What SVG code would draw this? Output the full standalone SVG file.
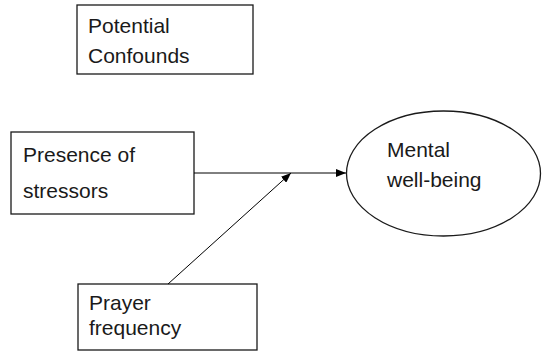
<svg xmlns="http://www.w3.org/2000/svg" width="542" height="351" viewBox="0 0 542 351">
<style>
.box{fill:#fff;stroke:#1a1a1a;stroke-width:1.3}
.t{font-family:"Liberation Sans",Arial,sans-serif;font-size:21px;fill:#1a1a1a}
.c{stroke:#000;stroke-width:1;fill:none}
</style>
<defs>
<marker id="ah" viewBox="0 0 10 8" refX="10" refY="4" markerWidth="10" markerHeight="8" markerUnits="userSpaceOnUse" orient="auto">
<path d="M0,0 L10,4 L0,8 Z" fill="#000"/>
</marker>
</defs>
<rect width="542" height="351" fill="#fff"/>
<g id="confounds">
<rect class="box" x="77" y="5" width="176" height="69"/>
<text class="t" x="88" y="33">Potential</text>
<text class="t" x="88" y="63">Confounds</text>
</g>
<g id="stressors">
<rect class="box" x="11" y="132" width="183" height="82"/>
<text class="t" x="23" y="162">Presence of</text>
<text class="t" x="23" y="198">stressors</text>
</g>
<g id="wellbeing">
<ellipse class="box" cx="443.5" cy="173.5" rx="97" ry="62.5"/>
<text class="t" x="387" y="157">Mental</text>
<text class="t" x="387" y="187">well-being</text>
</g>
<g id="prayer">
<rect class="box" x="78" y="284" width="179" height="66"/>
<text class="t" x="89" y="310">Prayer</text>
<text class="t" x="89" y="335">frequency</text>
</g>
<g id="connectors">
<line class="c" x1="194" y1="173" x2="346" y2="173" marker-end="url(#ah)"/>
<line class="c" x1="168" y1="284" x2="291" y2="173" marker-end="url(#ah)"/>
</g>
</svg>
